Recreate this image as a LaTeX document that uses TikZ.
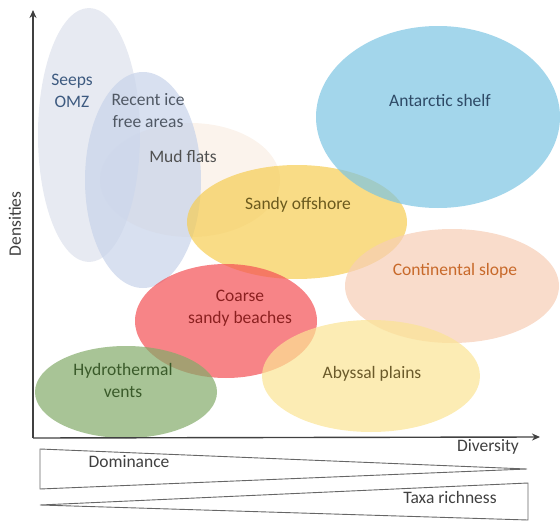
\documentclass[tikz,border=0pt]{standalone}
\usepackage{fontspec}
\setmainfont{Carlito}
\usepackage{tikz}
\usetikzlibrary{arrows.meta}
\definecolor{seepsfill}{RGB}{221,225,236}
\definecolor{icefill}{RGB}{199,211,234}
\definecolor{mudfill}{RGB}{249,238,228}
\definecolor{sandyfill}{RGB}{246,205,82}
\definecolor{shelffill}{RGB}{124,196,226}
\definecolor{slopefill}{RGB}{246,205,181}
\definecolor{coarsefill}{RGB}{244,80,84}
\definecolor{abyssfill}{RGB}{251,228,148}
\definecolor{ventfill}{RGB}{131,171,105}
\definecolor{axisgray}{RGB}{64,64,64}
\definecolor{seepstext}{RGB}{61,90,128}
\definecolor{icetext}{RGB}{80,88,100}
\definecolor{mudtext}{RGB}{80,80,80}
\definecolor{sandytext}{RGB}{107,90,30}
\definecolor{shelftext}{RGB}{46,74,102}
\definecolor{slopetext}{RGB}{200,105,42}
\definecolor{coarsetext}{RGB}{139,32,32}
\definecolor{abysstext}{RGB}{107,90,42}
\definecolor{venttext}{RGB}{58,90,42}

\begin{document}
\begin{tikzpicture}[
  x=1pt, y=1pt,
  zone/.style={fill opacity=0.7},
  tag/.style={inner sep=0pt, align=center, font=\fontsize{17.5}{22}\selectfont},
  axis/.style={line width=1.4pt, draw=axisgray, -{Stealth[length=8pt, width=7pt]}},
  wedge/.style={draw=axisgray!80, line width=0.9pt, line join=miter}
]
\useasboundingbox (0,0) rectangle (560,-522);

% habitat zones
\fill[zone, fill=mudfill]    (190,-180) ellipse [x radius=90,  y radius=57];
\fill[zone, fill=seepsfill]  (89,-135)  ellipse [x radius=51,  y radius=127];
\fill[zone, fill=icefill]    (143,-180) ellipse [x radius=58,  y radius=108];
\fill[zone, fill=sandyfill]  (297,-222) ellipse [x radius=110, y radius=57];
\fill[zone, fill=shelffill]  (438,-117) ellipse [x radius=122, y radius=91];
\fill[zone, fill=slopefill]  (452,-286) ellipse [x radius=107, y radius=57];
\fill[zone, fill=coarsefill] (226,-321) ellipse [x radius=91,  y radius=57];
\fill[zone, fill=abyssfill]  (371,-376) ellipse [x radius=109, y radius=56];
\fill[zone, fill=ventfill]   (126,-392) ellipse [x radius=91,  y radius=46];

\node[tag, text=seepstext]  (seeps)  at (72,-91)   {Seeps\\OMZ};
\node[tag, text=icetext]    (ice)    at (148,-111) {Recent ice\\free areas};
\node[tag, text=mudtext]    (mud)    at (183,-156) {Mud flats};
\node[tag, text=sandytext]  (sandy)  at (298,-205) {Sandy offshore};
\node[tag, text=shelftext]  (shelf)  at (440,-100) {Antarctic shelf};
\node[tag, text=slopetext]  (slope)  at (455,-271) {Continental slope};
\node[tag, text=coarsetext] (coarse) at (240,-308) {Coarse\\sandy beaches};
\node[tag, text=abysstext]  (abyss)  at (372,-374) {Abyssal plains};
\node[tag, text=venttext]   (vents)  at (123,-380) {Hydrothermal\\vents};

% axes
\coordinate (origin) at (33,-438);
\coordinate (ytop) at (33,-10);
\coordinate (xend) at (540,-437);
\draw[axis] (origin) -- (ytop);
\draw[axis] (origin) -- (xend);
\node[tag, text=axisgray, rotate=90] (dens) at (15,-224) {Densities};
\node[tag, text=axisgray] (div) at (488,-447) {Diversity};

% gradients below the x axis
\draw[wedge] (40,-449) -- (527,-469) -- (40,-489) -- cycle;
\draw[wedge] (40,-505) -- (528,-483) -- (528,-520) -- cycle;
\node[tag, text=axisgray] (dom)  at (129,-462) {Dominance};
\node[tag, text=axisgray] (taxa) at (450,-497) {Taxa richness};
\end{tikzpicture}
\end{document}
